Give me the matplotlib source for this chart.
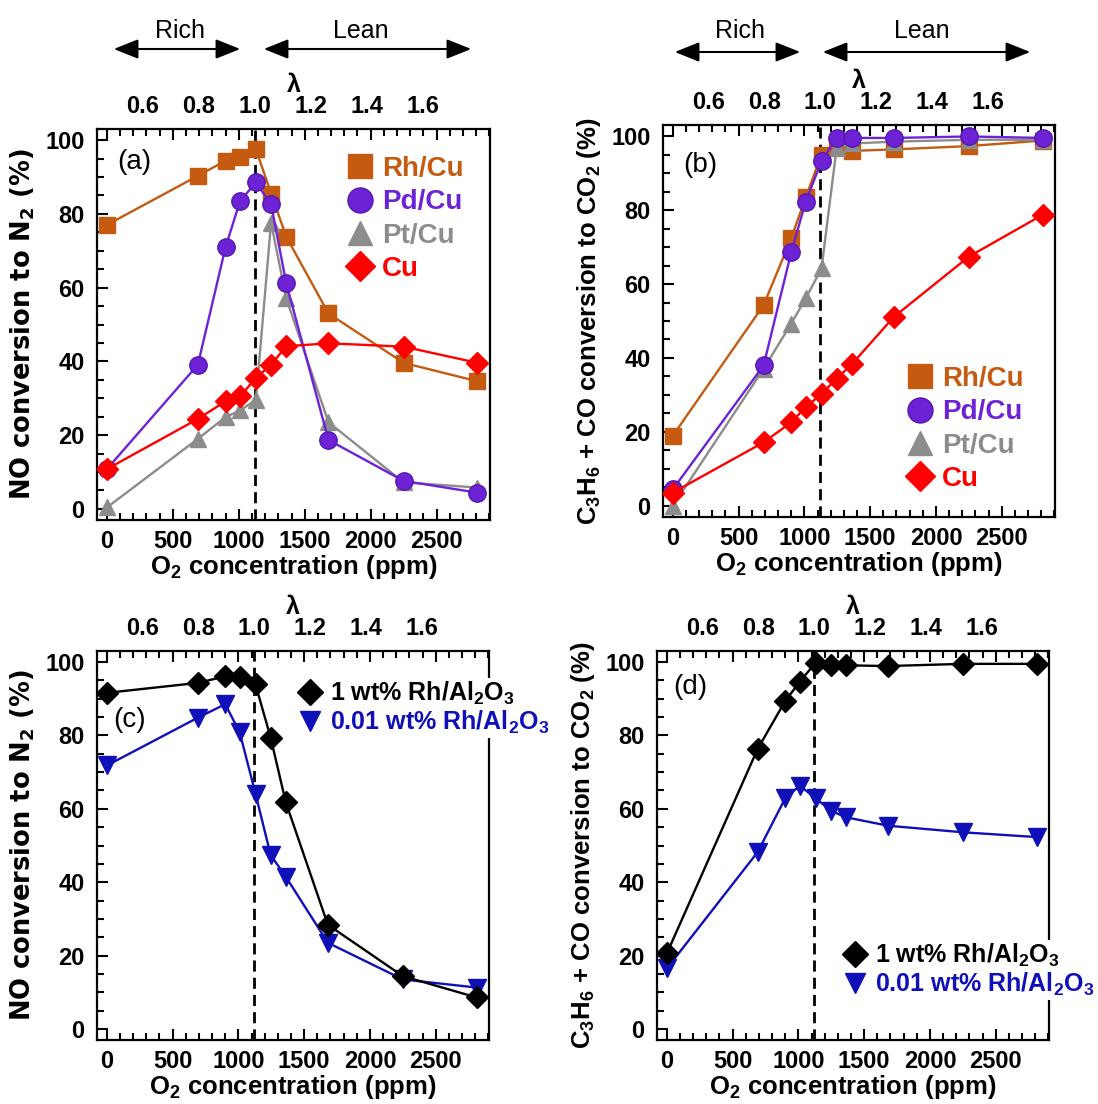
import matplotlib
matplotlib.use('Agg')
import matplotlib.pyplot as plt
from matplotlib.lines import Line2D
from matplotlib.ticker import MultipleLocator

plt.rcParams['font.family'] = 'Liberation Sans'
plt.rcParams['mathtext.default'] = 'regular'

# O2 concentration (ppm) of every measured point
o2 = [0, 690, 900, 1010, 1130, 1245, 1360, 1680, 2250, 2810]

# (a) NO conversion to N2 (%)
a_rh = [77, 90.3, 94.4, 95.5, 97.5, 85.5, 73.8, 53, 39.6, 34.6]
a_pd = [10.8, 39.1, 71, 83.5, 88.5, 82.6, 61.2, 18.7, 7.6, 4.4]
a_pt = [0.4, 19, 24.9, 26.7, 29.6, 77.6, 57.1, 23.5, 7.2, 5.8]
a_cu = [10.8, 24.4, 29.2, 30.5, 35.5, 39.1, 44.1, 44.9, 44, 39.6]

# (b) C3H6 + CO conversion to CO2 (%)
b_rh = [19, 54.3, 72.4, 83.4, 95, 97, 96, 96.4, 97.3, 98.8]
b_pd = [4.5, 38, 68.6, 82.3, 93.2, 99.5, 99.5, 99.5, 99.9, 99.5]
b_pt = [0, 37.1, 49.3, 56.1, 64.2, 96.8, 98, 98.5, 99, 99]
b_cu = [3.6, 17.2, 22.6, 26.7, 30.3, 34.4, 38.3, 51.1, 67.4, 78.7]

# (c) NO conversion, Rh/Al2O3
c_1 = [91.6, 94.3, 96.1, 95.9, 93.9, 79.4, 61.8, 28.4, 14.4, 8.6]
c_001 = [71.8, 84.8, 88.5, 80.8, 64.1, 47.4, 41.5, 23.5, 13.5, 11.3]

# (d) C3H6 + CO conversion, Rh/Al2O3
d_1 = [20.6, 76.3, 89.4, 94.6, 99.8, 99.1, 99.1, 98.9, 99.5, 99.5]
d_001 = [16.5, 48.2, 62.9, 66.3, 62.9, 59.5, 57.7, 55.4, 53.6, 52.3]

cu_labels = ['Rh/Cu', 'Pd/Cu', 'Pt/Cu', 'Cu']
rh_labels = ['1 wt% Rh/Al$_2$O$_3$', '0.01 wt% Rh/Al$_2$O$_3$']
lam_ticks = [0.6, 0.8, 1.0, 1.2, 1.4, 1.6]
lam_one = 1120  # ppm at lambda = 1

W, H = 1098, 1104
fig = plt.figure(figsize=(W / 100, H / 100), dpi=100)


def box(l, t, r, b):
    return [l / W, 1 - b / H, (r - l) / W, (b - t) / H]


def fx(x):
    return x / W


def fy(y):
    return 1 - y / H


def ppm2lam(p):
    return 1 + (p - lam_one) / 2130.0


def lam2ppm(l):
    return lam_one + (l - 1) * 2130.0


TICK = dict(family='Liberation Sans', weight='bold', size=17)

rh_c = '#C55A11'
pd_c = '#6E22D6'
pt_c = '#8C8C8C'
cu_c = '#FF0000'
bl_c = '#1010B8'


def setup(ax, ylab, big_label):
    ax.set_xlim(-75, 2905)
    ax.set_ylim(-3, 103)
    ax.xaxis.set_major_locator(MultipleLocator(500))
    ax.xaxis.set_minor_locator(MultipleLocator(100))
    ax.yaxis.set_major_locator(MultipleLocator(20))
    ax.yaxis.set_minor_locator(MultipleLocator(5))
    ax.tick_params(which='both', direction='in', top=True, right=False, width=1.5)
    ax.tick_params(which='major', length=8, pad=9)
    ax.tick_params(axis='x', which='major', pad=7)
    ax.tick_params(which='minor', length=5)
    for lab in ax.get_xticklabels() + ax.get_yticklabels():
        lab.set_fontproperties(matplotlib.font_manager.FontProperties(**TICK))
    for s in ax.spines.values():
        s.set_linewidth(1.6)
    ax.set_xlabel('O$_2$ concentration (ppm)', fontsize=18.5, fontweight='bold', labelpad=0)
    if big_label:
        ax.set_ylabel(ylab, fontsize=18.5, fontweight='bold', family='DejaVu Sans', labelpad=6)
    else:
        ax.set_ylabel(ylab, fontsize=18.5, fontweight='bold', labelpad=6)
    ax.axvline(lam_one, color='black', lw=2, ls=(0, (4, 2.2)), zorder=1)
    sec = ax.secondary_xaxis('top', functions=(ppm2lam, lam2ppm))
    sec.set_xticks(lam_ticks)
    sec.set_xticklabels(['%.1f' % v for v in lam_ticks], **TICK)
    sec.tick_params(length=0, pad=8)
    sec.spines['top'].set_visible(False)
    sec.set_xlabel('λ', fontsize=18, fontweight='bold', labelpad=2)


def put_legend(ax, handles, labels, colors, fs, mx, my, labelspacing):
    leg = ax.legend(handles, labels, loc='center left',
                    bbox_to_anchor=(fx(mx - fs * 1.389 * 0.5 - 0.1 * fs * 1.389), fy(my)),
                    bbox_transform=fig.transFigure, frameon=True, fancybox=False,
                    edgecolor='none', facecolor='white', framealpha=1,
                    borderpad=0.1, handlelength=1.0, handletextpad=0.3,
                    labelspacing=labelspacing, borderaxespad=0,
                    prop=dict(family='Liberation Sans', weight='bold', size=fs))
    for t, c in zip(leg.get_texts(), colors):
        t.set_color(c)
    leg.set_zorder(10)
    return leg


def mk(marker, color, ms, ec=None):
    return Line2D([], [], ls='none', marker=marker, color=color, markersize=ms,
                  markeredgecolor=ec or color)


# ---- (a)
ax = fig.add_axes(box(97, 129, 490, 520))
ax.plot(o2, a_rh, '-s', color=rh_c, lw=1.7, ms=12, zorder=3)
ax.plot(o2, a_pt, '-^', color=pt_c, lw=1.7, ms=12, zorder=3)
ax.plot(o2, a_pd, '-o', color=pd_c, lw=1.7, ms=12.5, mec='#5318B0', zorder=4)
ax.plot(o2, a_cu, '-D', color=cu_c, lw=1.7, ms=11, zorder=5)
setup(ax, 'NO conversion to N$_2$ (%)', True)
put_legend(ax, [mk('s', rh_c, 17), mk('o', pd_c, 18, '#5318B0'), mk('^', pt_c, 17), mk('D', cu_c, 15)],
           cu_labels, [rh_c, pd_c, pt_c, cu_c], 20, 360, 219, 0.26)
fig.text(fx(134), fy(162), '(a)', fontsize=20, ha='center', va='center')

# ---- (b)
ax = fig.add_axes(box(663, 125, 1055, 517))
ax.plot(o2, b_rh, '-s', color=rh_c, lw=1.7, ms=12, zorder=3)
ax.plot(o2, b_pt, '-^', color=pt_c, lw=1.7, ms=12, zorder=3)
ax.plot(o2, b_pd, '-o', color=pd_c, lw=1.7, ms=12.5, mec='#5318B0', zorder=4)
ax.plot(o2, b_cu, '-D', color=cu_c, lw=1.7, ms=11, zorder=5)
setup(ax, 'C$_3$H$_6$ + CO conversion to CO$_2$ (%)', False)
put_legend(ax, [mk('s', rh_c, 17), mk('o', pd_c, 18, '#5318B0'), mk('^', pt_c, 17), mk('D', cu_c, 15)],
           cu_labels, [rh_c, pd_c, pt_c, cu_c], 20, 920, 429, 0.26)
fig.text(fx(700), fy(165), '(b)', fontsize=20, ha='center', va='center')

# ---- (c)
ax = fig.add_axes(box(97, 651, 489, 1040))
ax.plot(o2, c_1, '-D', color='black', lw=1.7, ms=11, zorder=4)
ax.plot(o2, c_001, '-v', color=bl_c, lw=1.7, ms=12.5, zorder=3)
setup(ax, 'NO conversion to N$_2$ (%)', True)
put_legend(ax, [mk('D', 'black', 13), mk('v', bl_c, 15)], rh_labels, ['black', bl_c], 18, 310, 708, 0.05)
fig.text(fx(130), fy(720), '(c)', fontsize=20, ha='center', va='center')

# ---- (d)
ax = fig.add_axes(box(657, 651, 1049, 1040))
ax.plot(o2, d_1, '-D', color='black', lw=1.7, ms=11, zorder=4)
ax.plot(o2, d_001, '-v', color=bl_c, lw=1.7, ms=12.5, zorder=3)
setup(ax, 'C$_3$H$_6$ + CO conversion to CO$_2$ (%)', False)
put_legend(ax, [mk('D', 'black', 13), mk('v', bl_c, 15)], rh_labels, ['black', bl_c], 18, 855, 970, 0.05)
fig.text(fx(690), fy(687), '(d)', fontsize=20, ha='center', va='center')

# Rich / Lean arrows above (a) and (b)
for (r0, r1, l0, l1, y, xr, xl) in [(111, 243, 261, 474, 49, 180, 361),
                                   (672, 803, 820, 1033, 52, 740, 922)]:
    for x0, x1 in [(r0, r1), (l0, l1)]:
        fig.add_artist(matplotlib.patches.FancyArrowPatch(
            (fx(x0), fy(y)), (fx(x1), fy(y)), transform=fig.transFigure,
            arrowstyle='<|-|>,head_length=0.75,head_width=0.3', mutation_scale=20,
            color='black', lw=1.5))
    fig.text(fx(xr), fy(31), 'Rich', fontsize=18, ha='center', va='center')
    fig.text(fx(xl), fy(31), 'Lean', fontsize=18, ha='center', va='center')

fig.savefig('out.png', dpi=100)
